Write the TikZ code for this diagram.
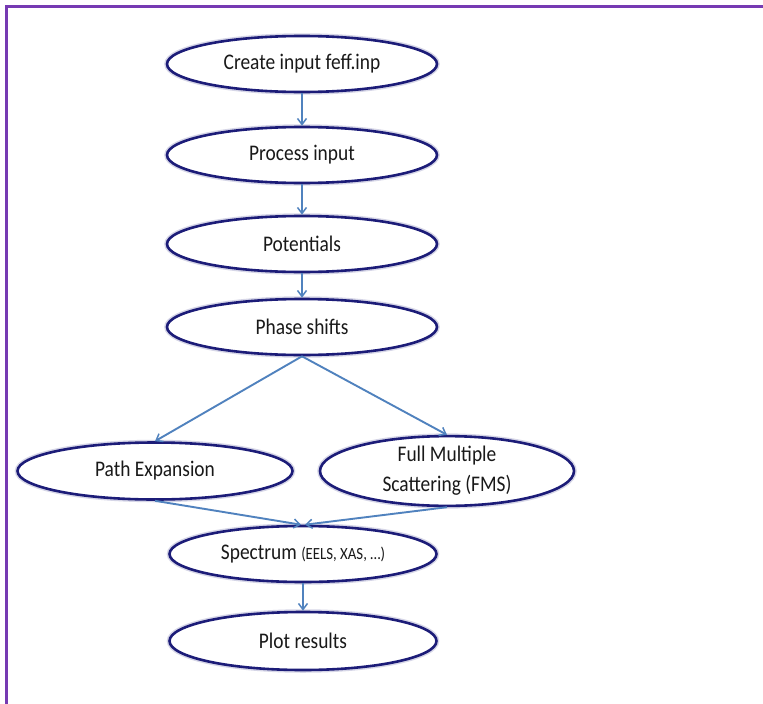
\documentclass[tikz,border=0pt]{standalone}
\usepackage{fontspec}
\usepackage{graphicx}
\setmainfont{Carlito}
\usetikzlibrary{shapes.geometric,arrows.meta}
\definecolor{framepurple}{RGB}{118,58,178}
\definecolor{ellnavy}{RGB}{28,28,120}
\definecolor{arrowblue}{RGB}{80,130,190}
\definecolor{txtgray}{RGB}{25,25,25}
\newcommand{\tallt}[1]{\scalebox{1}[1.15]{#1}}
\tikzset{
  stepell/.style={ellipse, draw=ellnavy, line width=2.6pt, fill=white, inner sep=0pt,
    preaction={draw=ellnavy!18, line width=5.5pt},
    text=txtgray,
    minimum width=270pt, minimum height=56pt, font=\fontsize{19.4}{22}\selectfont},
  flow/.style={draw=arrowblue, line width=1.9pt, -{Straight Barb[length=6pt,width=9pt,line width=1.5pt]}},
}
\begin{document}
\begin{tikzpicture}[x=1pt,y=-1pt]
\useasboundingbox (0,0) rectangle (763,704);
\fill[white] (0,0) rectangle (763,704);
\draw[framepurple, line width=3pt] (6.5,704) -- (6.5,6.5) -- (763,6.5);

\node[stepell] (create) at (302,64) {\tallt{Create input feff.inp}};
\node[stepell] (process) at (302,155) {\tallt{Process input}};
\node[stepell] (pot) at (302,244) {\tallt{Potentials}};
\node[stepell] (phase) at (302,327) {\tallt{Phase shifts}};
\node[stepell, minimum width=275pt, minimum height=57pt] (path) at (155,471) {\tallt{Path Expansion}};
\node[stepell, minimum width=254pt, minimum height=60pt, align=center, font=\fontsize{19.4}{30}\selectfont] (fms) at (447,471) {\tallt{Full Multiple}\\\tallt{Scattering (FMS)}};
\node[stepell, minimum width=267pt] (spec) at (303,554) {\tallt{Spectrum {\fontsize{14.8}{17}\selectfont(EELS, XAS, \dots)}}};
\node[stepell, minimum width=267pt, minimum height=58pt] (plot) at (303,641) {\tallt{Plot results}};

\draw[flow] (create) -- (process);
\draw[flow] (process) -- (pot);
\draw[flow] (pot) -- (phase);
\draw[flow] (phase.south) -- (path.north);
\draw[flow] (phase.south) -- (fms.north);
\draw[flow] (path.south) -- ([xshift=-2pt]spec.north);
\draw[flow] (fms.south) -- ([xshift=2pt]spec.north);
\draw[flow] (spec) -- (plot);
\end{tikzpicture}
\end{document}
